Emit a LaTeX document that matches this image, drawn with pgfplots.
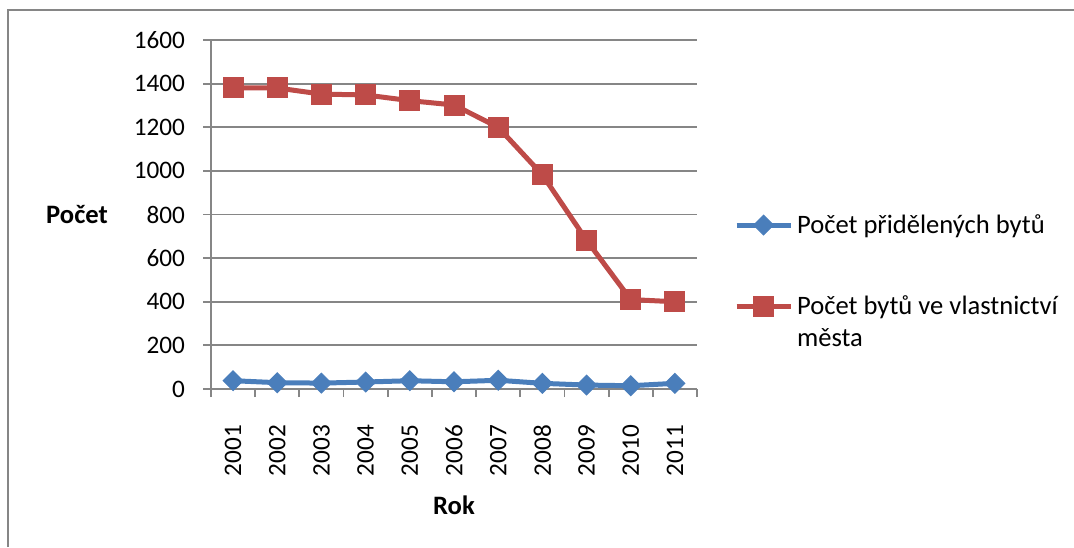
\documentclass[border=0pt]{standalone}
\usepackage{pgfplots}
\pgfplotsset{compat=1.18}
\usepackage{fontspec}
\setmainfont{Carlito}

\definecolor{gridgray}{HTML}{868686}
\definecolor{serblue}{HTML}{4A7EBB}
\definecolor{serred}{HTML}{BE4B48}

\begin{document}
\begin{tikzpicture}
\useasboundingbox (0pt,0pt) rectangle (537pt,273.5pt);
% chart frame
\draw[gridgray, line width=0.9pt] (4pt,0pt) -- (4pt,268.5pt) -- (537pt,268.5pt);

\begin{axis}[
  at={(105.5pt,79pt)}, anchor=south west,
  scale only axis, width=243pt, height=174.5pt,
  font=\fontsize{13.3}{16}\selectfont,
  tick label style={font=\fontsize{12.6}{15}\selectfont},
  xmin=0.5, xmax=11.5, ymin=0, ymax=1600,
  xtick={1,...,11},
  xticklabels={2001,2002,2003,2004,2005,2006,2007,2008,2009,2010,2011},
  minor xtick={0.5,1.5,...,11.5},
  ytick={0,200,...,1600},
  /pgf/number format/1000 sep={},
  /pgf/number format/assume math mode=true,
  tick align=outside,
  major tick length=4pt,
  minor tick length=4pt,
  xtick style={draw=none},
  minor x tick style={draw=gridgray, line width=0.9pt},
  ytick style={draw=gridgray, line width=0.9pt},
  axis x line*=bottom, axis y line*=left,
  axis line style={draw=gridgray, line width=0.9pt, -},
  ymajorgrids, grid style={gridgray, line width=0.9pt},
  xticklabel style={rotate=90, anchor=east, xshift=-10.5pt},
  yticklabel style={xshift=-5.5pt},
  xlabel={\bfseries Rok},
  xlabel style={at={(axis description cs:0.5,-0.332)}, anchor=center},
  ylabel={\bfseries Počet},
  ylabel style={rotate=-90, at={(axis description cs:-0.2757,0.4986)}, anchor=center},
  legend style={draw=none, fill=none, at={(axis description cs:1.063,0.525)}, anchor=north west,
    font=\fontsize{13.3}{16}\selectfont, row sep=26pt,
    cells={anchor=west, align=left}},
  legend image code/.code={
    \draw[mark repeat=2, mark phase=2] plot coordinates {(0pt,0pt) (13.5pt,0pt) (27pt,0pt)};},
]
\addplot[color=serblue, line width=2.5pt, mark=square*, mark size=3.5pt,
  mark options={rotate=45, fill=serblue, draw=serblue, line width=0.5pt}]
  coordinates {(1,38) (2,29) (3,27) (4,32) (5,38) (6,33) (7,40) (8,26) (9,18) (10,15) (11,26)};
\addlegendentry{Počet přidělených bytů}
% two-line entry: lift the key to the first text line
\addplot[color=serred, line width=2.5pt, mark=square*, mark size=5pt,
  mark options={fill=serred, draw=serred, line width=0.5pt},
  legend image code/.code={
    \draw[mark repeat=2, mark phase=2, yshift=8pt] plot coordinates {(0pt,0pt) (13.5pt,0pt) (27pt,0pt)};}]
  coordinates {(1,1380) (2,1380) (3,1352) (4,1348) (5,1322) (6,1302) (7,1200) (8,982) (9,682) (10,410) (11,400)};
\addlegendentry{Počet bytů ve vlastnictví\\města}
\end{axis}
\end{tikzpicture}
\end{document}
